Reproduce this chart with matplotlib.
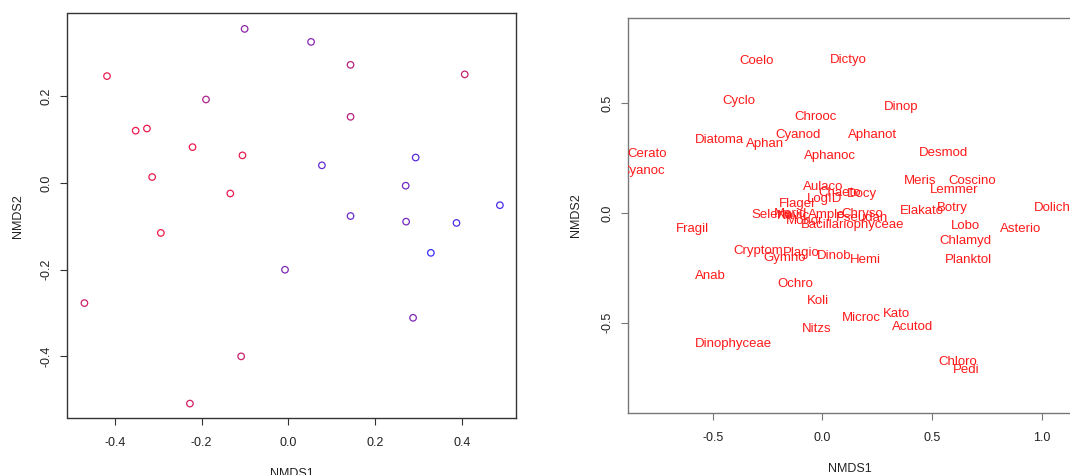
import matplotlib
matplotlib.use("Agg")
import matplotlib.pyplot as plt
from matplotlib.colors import LinearSegmentedColormap

plt.rcParams['font.family'] = ['Liberation Sans', 'DejaVu Sans']

# Site scores (NMDS1, NMDS2) and gradient value used for colouring
site_x = [-0.101, 0.052, 0.143, 0.406, -0.418, -0.190, 0.143, -0.352, -0.326,
          -0.221, -0.106, 0.293, 0.077, -0.314, 0.270, -0.134, 0.487, 0.143,
          0.271, 0.387, -0.294, 0.328, -0.008, -0.470, 0.287, -0.109, -0.227]
site_y = [0.356, 0.326, 0.273, 0.251, 0.247, 0.193, 0.153, 0.121, 0.126,
          0.083, 0.064, 0.059, 0.041, 0.014, -0.006, -0.024, -0.051, -0.076,
          -0.089, -0.092, -0.115, -0.161, -0.200, -0.277, -0.311, -0.400, -0.509]
site_grad = [0.55, 0.60, 0.35, 0.28, 0.12, 0.40, 0.35, 0.10, 0.10,
             0.10, 0.12, 0.80, 0.75, 0.10, 0.70, 0.12, 0.88, 0.72,
             0.68, 0.85, 0.10, 0.95, 0.62, 0.25, 0.62, 0.25, 0.22]

# Species scores
species = ["Coelo", "Dictyo", "Cyclo", "Dinop", "Chrooc", "Cyanod", "Aphanot",
           "Diatoma", "Aphan", "Cerato", "Aphanoc", "Desmod", "Cyanoc", "Meris",
           "Coscino", "Lemmer", "Aulaco", "Chaeto", "Docy", "LogID", "Flagel",
           "Botry", "Elakato", "Dolicho", "Fragil", "Lobo", "Asterio",
           "Selena", "Merid", "Navic", "Ample", "Chryso", "Pseudan", "Monor",
           "Bacillariophyceae", "Chlamyd", "Cryptom", "Plagio", "Gymno", "Dinob",
           "Hemi", "Planktol", "Anab", "Ochro", "Koli", "Microc", "Kato",
           "Acutod", "Nitzs", "Dinophyceae", "Chloro", "Pedi"]
species_x = [-0.298, 0.119, -0.381, 0.360, -0.030, -0.111, 0.229,
             -0.470, -0.261, -0.800, 0.035, 0.553, -0.821, 0.445,
             0.684, 0.602, 0.002, 0.078, 0.179, 0.008, -0.117,
             0.593, 0.453, 1.064, -0.591, 0.652, 0.906,
             -0.231, -0.144, -0.130, 0.020, 0.182, 0.182, -0.080,
             0.137, 0.653, -0.292, -0.094, -0.170, 0.053,
             0.195, 0.666, -0.512, -0.123, -0.020, 0.178, 0.337,
             0.412, -0.024, -0.404, 0.616, 0.658]
species_y = [0.691, 0.697, 0.511, 0.483, 0.438, 0.354, 0.354,
             0.331, 0.315, 0.269, 0.258, 0.274, 0.192, 0.145,
             0.146, 0.105, 0.117, 0.091, 0.086, 0.065, 0.042,
             0.023, 0.011, 0.022, -0.071, -0.060, -0.071,
             -0.010, -0.005, -0.015, -0.010, -0.006, -0.025, -0.035,
             -0.055, -0.126, -0.173, -0.181, -0.207, -0.198,
             -0.213, -0.216, -0.289, -0.324, -0.401, -0.479, -0.462,
             -0.518, -0.530, -0.599, -0.678, -0.716]

W, H = 1070, 475
fig = plt.figure(figsize=(W / 100, H / 100), dpi=100)


def px_axes(left, top, right, bottom):
    return fig.add_axes([left / W, 1 - bottom / H, (right - left) / W, (bottom - top) / H])


def style(ax, spine_color):
    for s in ax.spines.values():
        s.set_color(spine_color)
        s.set_linewidth(1.0)
    ax.tick_params(axis='both', length=5.3, width=0.8, color=spine_color,
                   labelsize=9, labelcolor='#222222')
    ax.tick_params(axis='x', pad=8.5)
    ax.tick_params(axis='y', pad=5.5)
    for lab in ax.get_yticklabels():
        lab.set_rotation(90)
        lab.set_va('center')


# Site plot
ramp = LinearSegmentedColormap.from_list("rb", ["#ff1a3a", "#3030ff"])
ax1 = px_axes(67.5, 13.3, 516.4, 418.3)
ax1.scatter(site_x, site_y, s=22, facecolors='none',
            edgecolors=[ramp(g) for g in site_grad], linewidths=0.9)
ax1.set_xlim(-0.509, 0.525)
ax1.set_ylim(-0.543, 0.392)
ax1.set_xticks([-0.4, -0.2, 0.0, 0.2, 0.4])
ax1.set_yticks([-0.4, -0.2, 0.0, 0.2])
ax1.set_xticklabels(["-0.4", "-0.2", "0.0", "0.2", "0.4"])
ax1.set_yticklabels(["-0.4", "-0.2", "0.0", "0.2"])
style(ax1, '#333333')
ax1.set_xlabel("NMDS1", fontsize=9, color='#222222', labelpad=13)
ax1.set_ylabel("NMDS2", fontsize=9, color='#222222', labelpad=12)

# Species plot
ax2 = px_axes(628.3, 18.0, 1072.3, 412.7)
ax2.set_xlim(-0.885, 1.14)
ax2.set_ylim(-0.911, 0.889)
for name, x, y in zip(species, species_x, species_y):
    ax2.text(x, y, name, color='#ff1a1a', fontsize=9.5, ha='center',
             va='center', clip_on=True)
ax2.set_xticks([-0.5, 0.0, 0.5, 1.0])
ax2.set_yticks([-0.5, 0.0, 0.5])
ax2.set_xticklabels(["-0.5", "0.0", "0.5", "1.0"])
ax2.set_yticklabels(["-0.5", "0.0", "0.5"])
style(ax2, '#777777')
ax2.set_xlabel("NMDS1", fontsize=9, color='#222222', labelpad=14)
ax2.set_ylabel("NMDS2", fontsize=9, color='#222222', labelpad=14)

fig.savefig("out.png", dpi=100)
